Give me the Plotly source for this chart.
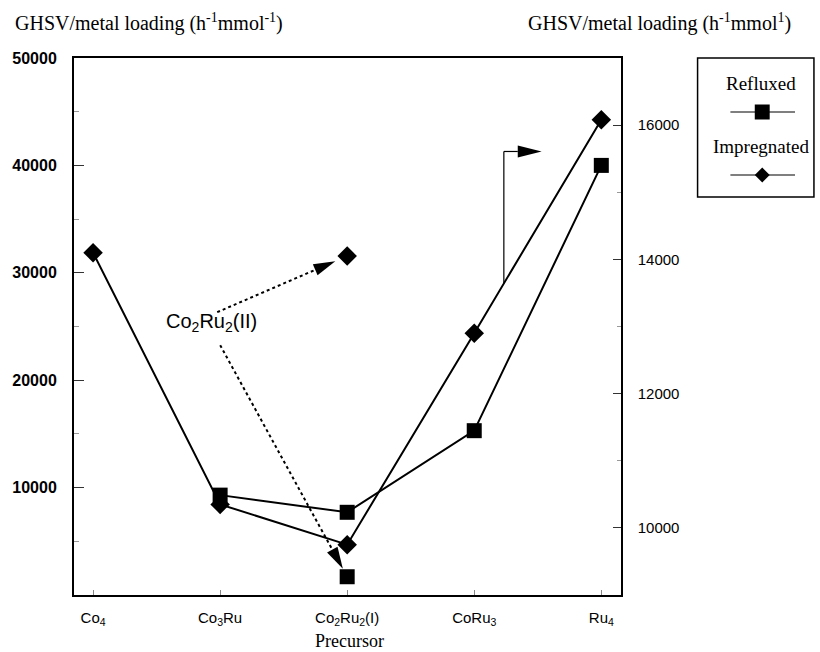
import plotly.graph_objects as go

# ---------------- data ----------------
categories = ["Co<sub>4</sub>", "Co<sub>3</sub>Ru", "Co<sub>2</sub>Ru<sub>2</sub>(I)",
              "CoRu<sub>3</sub>", "Ru<sub>4</sub>"]
refluxed = [None, 9300, 7700, 15300, 40000]          # left axis
impregnated = [14100, 10350, 9750, 12900, 16080]     # right axis
ii_label = "Co<sub>2</sub>Ru<sub>2</sub>(II)"
ii_refluxed = 1700
ii_impregnated = 14050
left_ticks = [10000, 20000, 30000, 40000, 50000]
right_ticks = [10000, 12000, 14000, 16000]
series_names = ["Refluxed", "Impregnated"]

# ---------------- geometry ----------------
W, H = 820, 652
ML, MR, MT, MB = 71, 199, 58, 57
PW, PH = W - ML - MR, H - MT - MB
XR = [-0.15, 4.155]
YR = [0, 50000]
Y2R = [9000, 17000]
x_idx = list(range(len(categories)))

def px(x):
    return ML + (x - XR[0]) / (XR[1] - XR[0]) * PW

def py(y, r):
    return MT + (r[1] - y) / (r[1] - r[0]) * PH

def paper(pxx, pyy):
    return (pxx - ML) / PW, (MT + PH - pyy) / PH

def arrowhead(tip, direction, L=22, Wd=6):
    dx, dy = direction
    n = (dx * dx + dy * dy) ** 0.5
    ux, uy = dx / n, dy / n
    bx, by = tip[0] - L * ux, tip[1] - L * uy
    p1 = (bx - Wd * uy, by + Wd * ux)
    p2 = (bx + Wd * uy, by - Wd * ux)
    pts = [paper(*tip), paper(*p1), paper(*p2)]
    path = "M{},{} L{},{} L{},{} Z".format(pts[0][0], pts[0][1], pts[1][0], pts[1][1], pts[2][0], pts[2][1])
    shape = dict(type="path", xref="paper", yref="paper", path=path,
                 fillcolor="black", line=dict(width=0))
    return shape, (bx, by)

def line_shape(a, b, dash="solid", width=1.5):
    pa, pb = paper(*a), paper(*b)
    return dict(type="line", xref="paper", yref="paper", x0=pa[0], y0=pa[1], x1=pb[0], y1=pb[1],
                line=dict(color="black", width=width, dash=dash))

fig = go.Figure()

fig.add_trace(go.Scatter(x=x_idx, y=refluxed, mode="lines+markers", name=series_names[0],
                         line=dict(color="black", width=2),
                         marker=dict(symbol="square", size=15, color="black"),
                         yaxis="y", showlegend=False))
fig.add_trace(go.Scatter(x=x_idx, y=impregnated, mode="lines+markers", name=series_names[1],
                         line=dict(color="black", width=2),
                         marker=dict(symbol="diamond", size=15, color="black"),
                         yaxis="y2", showlegend=False))
fig.add_trace(go.Scatter(x=[2], y=[ii_refluxed], mode="markers",
                         marker=dict(symbol="square", size=15, color="black"),
                         yaxis="y", showlegend=False))
fig.add_trace(go.Scatter(x=[2], y=[ii_impregnated], mode="markers",
                         marker=dict(symbol="diamond", size=15, color="black"),
                         yaxis="y2", showlegend=False))

shapes = []
annotations = []

# ---- Co2Ru2(II) label and dotted arrows ----
label_x, label_y = 0.93, 25400
lpx, lpy = px(label_x), py(label_y, YR)
annotations.append(dict(x=label_x, y=label_y, xref="x", yref="y", text=ii_label, showarrow=False,
                        font=dict(family="Liberation Sans", size=20, color="black"),
                        xanchor="center", yanchor="middle"))

# upper arrow to diamond
start = (lpx + 6, lpy - 10)
target = (px(2), py(ii_impregnated, Y2R))
d = (target[0] - start[0], target[1] - start[1])
n = (d[0] ** 2 + d[1] ** 2) ** 0.5
tip = (target[0] - d[0] / n * 13, target[1] - d[1] / n * 13)
sh, base = arrowhead(tip, d)
shapes.append(line_shape(start, base, dash="dot", width=2))
shapes.append(sh)

# lower arrow to square
start = (lpx + 9, lpy + 23)
target = (px(2), py(ii_refluxed, YR))
d = (target[0] - start[0], target[1] - start[1])
n = (d[0] ** 2 + d[1] ** 2) ** 0.5
tip = (target[0] - d[0] / n * 9, target[1] - d[1] / n * 9)
sh, base = arrowhead(tip, d)
shapes.append(line_shape(start, base, dash="dot", width=2))
shapes.append(sh)

# ---- connector from impregnated line to right axis ----
cx = 3.233
cy = impregnated[3] + (cx - 3) * (impregnated[4] - impregnated[3])
p0 = (px(cx), py(cy, Y2R))
p1 = (p0[0], p0[1] - 132)
p2 = (p0[0] + 14, p1[1])
shapes.append(line_shape(p0, p1, width=1.2))
shapes.append(line_shape(p1, p2, width=1.2))
sh, _ = arrowhead((p2[0] + 24, p2[1]), (1, 0), L=24, Wd=6)
shapes.append(sh)

# ---- legend (drawn) ----
bx0, by0, bx1, by1 = paper(698, 197) + paper(815, 58)
shapes.append(dict(type="rect", xref="paper", yref="paper", x0=bx0, y0=by0, x1=bx1, y1=by1,
                   line=dict(color="black", width=1.5), fillcolor="rgba(0,0,0,0)"))
leg_cx = 763
for i, (name, yt, ym) in enumerate([(series_names[0], 83, 112), (series_names[1], 146, 175)]):
    tx, ty = paper(leg_cx - 1, yt)
    annotations.append(dict(x=tx, y=ty, xref="paper", yref="paper", text=name, showarrow=False,
                            font=dict(family="Liberation Serif", size=19, color="black"),
                            xanchor="center", yanchor="middle"))
    shapes.append(line_shape((731, ym), (796, ym), width=1.2))
    if i == 0:
        a, b = paper(leg_cx - 7.5, ym + 7.5), paper(leg_cx + 7.5, ym - 7.5)
        shapes.append(dict(type="rect", xref="paper", yref="paper", x0=a[0], y0=a[1], x1=b[0], y1=b[1],
                           fillcolor="black", line=dict(width=0)))
    else:
        pts = [paper(leg_cx, ym - 7.5), paper(leg_cx + 7.5, ym), paper(leg_cx, ym + 7.5), paper(leg_cx - 7.5, ym)]
        path = "M" + " L".join("{},{}".format(p[0], p[1]) for p in pts) + " Z"
        shapes.append(dict(type="path", xref="paper", yref="paper", path=path,
                           fillcolor="black", line=dict(width=0)))

# ---- axis titles ----
tt = "GHSV/metal loading (h<sup>-1</sup>mmol<sup>-1</sup>)"
tt2 = "GHSV/metal loading (h<sup>-1</sup>mmol<sup>1</sup>)"
x0p, y0p = paper(10, 22)
annotations.append(dict(x=x0p, y=y0p, xref="paper", yref="paper", text=tt, showarrow=False,
                        font=dict(family="Liberation Serif", size=20, color="black"),
                        xanchor="left", yanchor="middle"))
x0p, y0p = paper(525, 22)
annotations.append(dict(x=x0p, y=y0p, xref="paper", yref="paper", text=tt2, showarrow=False,
                        font=dict(family="Liberation Serif", size=20, color="black"),
                        xanchor="left", yanchor="middle"))
x0p, y0p = paper(348, 641)
annotations.append(dict(x=x0p, y=y0p, xref="paper", yref="paper", text="Precursor", showarrow=False,
                        font=dict(family="Liberation Serif", size=18, color="black"),
                        xanchor="center", yanchor="middle"))

fig.update_layout(
    width=W, height=H,
    margin=dict(l=ML, r=MR, t=MT, b=MB),
    paper_bgcolor="white", plot_bgcolor="white",
    showlegend=False,
    shapes=shapes, annotations=annotations,
    xaxis=dict(range=XR, tickvals=x_idx, ticktext=categories, showline=True, linecolor="black",
               linewidth=2, mirror=True, ticks="inside", ticklen=5, tickcolor="#888",
               showgrid=False, zeroline=False, ticklabelstandoff=8,
               tickfont=dict(family="Liberation Sans", size=15, color="black")),
    yaxis=dict(range=YR, tickvals=left_ticks, ticktext=[str(v) for v in left_ticks],
               showline=True, linecolor="black", linewidth=2,
               ticks="inside", ticklen=10, tickcolor="#333", showgrid=False, zeroline=False,
               ticklabelstandoff=12,
               minor=dict(dtick=5000, ticks="inside", ticklen=5, tickcolor="#999"),
               tickfont=dict(family="Liberation Sans", size=16, color="black", weight="bold")),
    yaxis2=dict(range=Y2R, tickvals=right_ticks, ticktext=[str(v) for v in right_ticks],
                overlaying="y", side="right", showline=True,
                linecolor="black", linewidth=1.5, ticks="inside", ticklen=8, tickcolor="#333",
                showgrid=False, zeroline=False, ticklabelstandoff=12,
                minor=dict(dtick=1000, ticks="inside", ticklen=4, tickcolor="#999"),
                tickfont=dict(family="Liberation Sans", size=15, color="black")),
)

fig.write_html("out.html", config={"displayModeBar": False},
               post_script="document.body.style.margin='0';document.body.style.overflow='hidden';")
